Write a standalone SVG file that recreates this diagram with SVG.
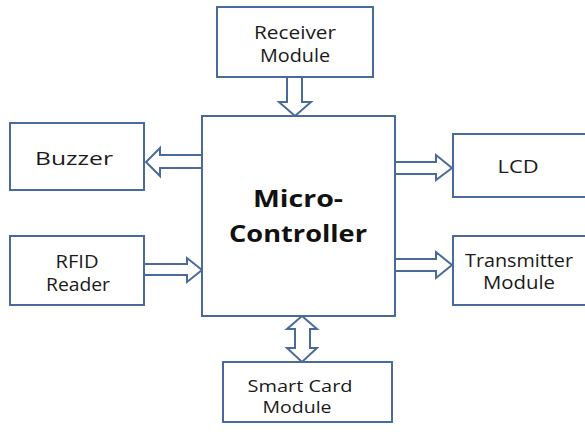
<svg xmlns="http://www.w3.org/2000/svg" width="585" height="432" viewBox="0 0 585 432">
<style>
.box{fill:#fff;stroke:#4a6a9c;stroke-width:2}
.arr{fill:#fff;stroke:#4a6a9c;stroke-width:2;stroke-linejoin:miter}
.t{font-family:"Open Sans","Liberation Sans",sans-serif;font-size:18px;fill:#1a1a1a;text-anchor:middle}
.s{font-size:17px}
.b{font-family:"Open Sans","Liberation Sans",sans-serif;font-size:24px;font-weight:bold;fill:#111;text-anchor:middle}
</style>
<rect width="585" height="432" fill="#fff"/>
<g id="connectors">
<polygon class="arr" points="287,77 302,77 302,102 311,102 295,116 279,102 287,102"/>
<polygon class="arr" points="202,155 160,155 160,148 146,162 160,176 160,168 202,168"/>
<polygon class="arr" points="144,264 187,264 187,258 202,270 187,282 187,275 144,275"/>
<polygon class="arr" points="395,162 436,162 436,155 452,168 436,180 436,174 395,174"/>
<polygon class="arr" points="395,259 436,259 436,252 452,265 436,278 436,271 395,271"/>
<polygon class="arr" points="302,316 317,329 310,329 310,348 317,348 302,362 287,348 295,348 295,329 287,329"/>
</g>
<g id="receiver">
<rect class="box" x="217" y="7" width="156" height="70"/>
<text class="t" x="295" y="39" textLength="82" lengthAdjust="spacingAndGlyphs">Receiver</text>
<text class="t" x="295" y="62" textLength="70" lengthAdjust="spacingAndGlyphs">Module</text>
</g>
<g id="microcontroller">
<rect class="box" x="202" y="116" width="193" height="200"/>
<text class="b" x="298" y="207" textLength="90" lengthAdjust="spacingAndGlyphs">Micro-</text>
<text class="b" x="298" y="242" textLength="138" lengthAdjust="spacingAndGlyphs">Controller</text>
</g>
<g id="buzzer">
<rect class="box" x="10" y="123" width="134" height="67"/>
<text class="t" x="74" y="165" textLength="78" lengthAdjust="spacingAndGlyphs">Buzzer</text>
</g>
<g id="rfid">
<rect class="box" x="10" y="236" width="134" height="69"/>
<text class="t" x="77" y="268" textLength="43" lengthAdjust="spacingAndGlyphs">RFID</text>
<text class="t" x="78" y="291" textLength="64" lengthAdjust="spacingAndGlyphs">Reader</text>
</g>
<g id="lcd">
<rect class="box" x="453" y="134" width="140" height="63"/>
<text class="t" x="518" y="173" textLength="41" lengthAdjust="spacingAndGlyphs">LCD</text>
</g>
<g id="transmitter">
<rect class="box" x="453" y="236" width="140" height="69"/>
<text class="t" x="519" y="267" textLength="108" lengthAdjust="spacingAndGlyphs">Transmitter</text>
<text class="t" x="519" y="289" textLength="72" lengthAdjust="spacingAndGlyphs">Module</text>
</g>
<g id="smartcard">
<rect class="box" x="223" y="362" width="169" height="60"/>
<text class="t s" x="300" y="392" textLength="105" lengthAdjust="spacingAndGlyphs">Smart Card</text>
<text class="t s" x="297" y="413" textLength="69" lengthAdjust="spacingAndGlyphs">Module</text>
</g>
</svg>
